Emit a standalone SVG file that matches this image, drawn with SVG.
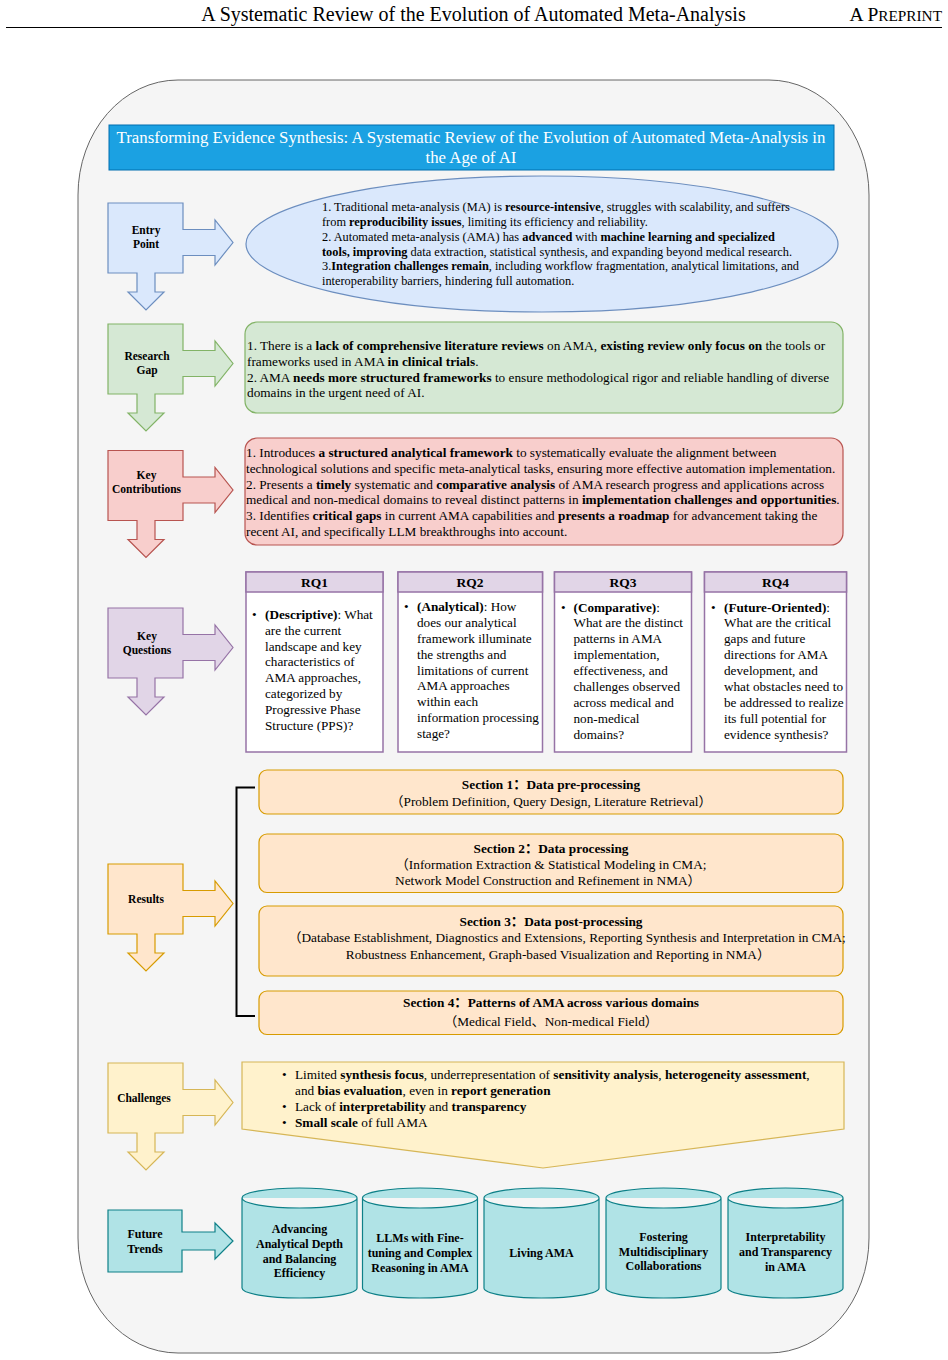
<svg xmlns="http://www.w3.org/2000/svg" xmlns:xlink="http://www.w3.org/1999/xlink" width="948" height="1360" viewBox="0 0 948 1360">
<style>
.t{font-family:"Liberation Serif","Noto Sans CJK SC",serif;fill:#000}
.b{font-weight:bold}
.lbl{font-family:"Liberation Serif",serif;font-weight:bold;font-size:11.5px;text-anchor:middle}
.cyl{font-family:"Liberation Serif",serif;font-weight:bold;font-size:12px;text-anchor:middle}
.body11{font-size:12.35px}
.body12{font-size:13.25px}
.rq{font-size:13.2px}
.rqh{font-family:"Liberation Serif",serif;font-weight:bold;font-size:13.5px;text-anchor:middle}
.sec{font-size:13.3px;text-anchor:middle}
.rqbox{fill:#fff;stroke:#9673a6;stroke-width:1.5}
.rqhead{fill:#e1d5e7;stroke:#9673a6;stroke-width:1.5}
.secbox{fill:#ffe6cc;stroke:#d79b00;stroke-width:1.2}
.cylshape{fill:#b0e3e6;stroke:#0e8088;stroke-width:1.2}
</style>
<defs>
<path id="la" d="M108,0 H183 V26.5 H215 V17 L233,39.5 L215,62 V52.5 H183 V70 H155 V89 H164 L146,107 L128,89 H137 V70 H108 Z"/>
<path id="cy" d="M0,10 a57.5,10 0 0 1 115,0 V100 a57.5,10 0 0 1 -115,0 Z M0,10 a57.5,10 0 0 0 115,0"/>
</defs>

<g id="page-header">
<text class="t" x="473.5" y="21" font-size="20" text-anchor="middle">A Systematic Review of the Evolution of Automated Meta-Analysis</text>
<text class="t" x="942" y="21" text-anchor="end"><tspan font-size="19.5">A P</tspan><tspan font-size="15.3">REPRINT</tspan></text>
<line x1="6" y1="27.5" x2="942" y2="27.5" stroke="#000" stroke-width="1"/>
</g>

<g id="container">
<rect x="78" y="80" width="791" height="1273" rx="100" ry="115" fill="#f5f5f5" stroke="#666" stroke-width="1"/>
</g>

<g id="title">
<rect x="109" y="125" width="725" height="45" fill="#1ba1e2" stroke="#006eaf" stroke-width="1"/>
<text class="t" font-size="16.8" text-anchor="middle" style="fill:#fff"><tspan x="471" y="143">Transforming Evidence Synthesis: A Systematic Review of the Evolution of Automated Meta-Analysis in</tspan><tspan x="471" y="163">the Age of AI</tspan></text>
</g>

<g id="entry-point">
<use xlink:href="#la" transform="translate(0,203)" fill="#dae8fc" stroke="#6c8ebf" stroke-width="1.2"/>
<text class="lbl"><tspan x="146" y="234">Entry</tspan><tspan x="146" y="248">Point</tspan></text>
</g>
<g id="entry-content">
<ellipse cx="542" cy="244" rx="296" ry="68" fill="#dae8fc" stroke="#6c8ebf" stroke-width="1.2"/>
<text class="t body11">
<tspan x="322" y="211">1. Traditional meta-analysis (MA) is <tspan class="b">resource-intensive</tspan>, struggles with scalability, and suffers</tspan>
<tspan x="322" y="226">from <tspan class="b">reproducibility issues</tspan>, limiting its efficiency and reliability.</tspan>
<tspan x="322" y="241">2. Automated meta-analysis (AMA) has <tspan class="b">advanced</tspan> with <tspan class="b">machine learning and specialized</tspan></tspan>
<tspan x="322" y="256"><tspan class="b">tools, improving</tspan> data extraction, statistical synthesis, and expanding beyond medical research.</tspan>
<tspan x="322" y="270">3.<tspan class="b">Integration challenges remain</tspan>, including workflow fragmentation, analytical limitations, and</tspan>
<tspan x="322" y="285">interoperability barriers, hindering full automation.</tspan>
</text>
</g>

<g id="research-gap">
<use xlink:href="#la" transform="translate(0,324)" fill="#d5e8d4" stroke="#82b366" stroke-width="1.2"/>
<text class="lbl"><tspan x="147" y="360">Research</tspan><tspan x="147" y="374">Gap</tspan></text>
</g>
<g id="research-gap-content">
<rect x="245" y="322" width="598" height="91" rx="12" fill="#d5e8d4" stroke="#82b366" stroke-width="1.2"/>
<text class="t body12">
<tspan x="247" y="350">1. There is a <tspan class="b">lack of comprehensive literature reviews</tspan> on AMA, <tspan class="b">existing review only focus on</tspan> the tools or</tspan>
<tspan x="247" y="366">frameworks used in AMA <tspan class="b">in clinical trials</tspan>.</tspan>
<tspan x="247" y="381.5">2. AMA <tspan class="b">needs more structured frameworks</tspan> to ensure methodological rigor and reliable handling of diverse</tspan>
<tspan x="247" y="397">domains in the urgent need of AI.</tspan>
</text>
</g>

<g id="key-contributions">
<use xlink:href="#la" transform="translate(0,450.5)" fill="#f8cecc" stroke="#b85450" stroke-width="1.2"/>
<text class="lbl"><tspan x="146.5" y="479">Key</tspan><tspan x="146.5" y="493">Contributions</tspan></text>
</g>
<g id="key-contributions-content">
<rect x="245" y="438" width="598" height="107" rx="12" fill="#f8cecc" stroke="#b85450" stroke-width="1.2"/>
<text class="t body12">
<tspan x="246" y="457">1. Introduces <tspan class="b">a structured analytical framework</tspan> to systematically evaluate the alignment between</tspan>
<tspan x="246" y="472.5">technological solutions and specific meta-analytical tasks, ensuring more effective automation implementation.</tspan>
<tspan x="246" y="488.5">2. Presents a <tspan class="b">timely</tspan> systematic and <tspan class="b">comparative analysis</tspan> of AMA research progress and applications across</tspan>
<tspan x="246" y="504">medical and non-medical domains to reveal distinct patterns in <tspan class="b">implementation challenges and opportunities</tspan>.</tspan>
<tspan x="246" y="520">3. Identifies <tspan class="b">critical gaps</tspan> in current AMA capabilities and <tspan class="b">presents a roadmap</tspan> for advancement taking the</tspan>
<tspan x="246" y="536">recent AI, and specifically LLM breakthroughs into account.</tspan>
</text>
</g>

<g id="key-questions">
<use xlink:href="#la" transform="translate(0,608)" fill="#e1d5e7" stroke="#9673a6" stroke-width="1.2"/>
<text class="lbl"><tspan x="147" y="640">Key</tspan><tspan x="147" y="654">Questions</tspan></text>
</g>

<g id="rq1">
<rect class="rqbox" x="246" y="572" width="137" height="180"/>
<rect class="rqhead" x="246" y="572" width="137" height="20"/>
<text class="rqh" x="314.5" y="587">RQ1</text>
<text class="t rq"><tspan x="252" y="619">•</tspan>
<tspan x="265" y="619"><tspan class="b">(Descriptive)</tspan>: What</tspan>
<tspan x="265" y="635">are the current</tspan>
<tspan x="265" y="650.5">landscape and key</tspan>
<tspan x="265" y="666">characteristics of</tspan>
<tspan x="265" y="682">AMA approaches,</tspan>
<tspan x="265" y="698">categorized by</tspan>
<tspan x="265" y="714">Progressive Phase</tspan>
<tspan x="265" y="730">Structure (PPS)?</tspan>
</text>
</g>

<g id="rq2">
<rect class="rqbox" x="398" y="572" width="144.5" height="180"/>
<rect class="rqhead" x="398" y="572" width="144.5" height="20"/>
<text class="rqh" x="470" y="587">RQ2</text>
<text class="t rq"><tspan x="404" y="611">•</tspan>
<tspan x="417" y="611"><tspan class="b">(Analytical)</tspan>: How</tspan>
<tspan x="417" y="627">does our analytical</tspan>
<tspan x="417" y="643">framework illuminate</tspan>
<tspan x="417" y="659">the strengths and</tspan>
<tspan x="417" y="674.5">limitations of current</tspan>
<tspan x="417" y="690">AMA approaches</tspan>
<tspan x="417" y="706">within each</tspan>
<tspan x="417" y="722">information processing</tspan>
<tspan x="417" y="738">stage?</tspan>
</text>
</g>

<g id="rq3">
<rect class="rqbox" x="554.5" y="572" width="137" height="180"/>
<rect class="rqhead" x="554.5" y="572" width="137" height="20"/>
<text class="rqh" x="623" y="587">RQ3</text>
<text class="t rq"><tspan x="561" y="612">•</tspan>
<tspan x="573.5" y="612"><tspan class="b">(Comparative)</tspan>:</tspan>
<tspan x="573.5" y="627">What are the distinct</tspan>
<tspan x="573.5" y="643">patterns in AMA</tspan>
<tspan x="573.5" y="659">implementation,</tspan>
<tspan x="573.5" y="674.5">effectiveness, and</tspan>
<tspan x="573.5" y="690.5">challenges observed</tspan>
<tspan x="573.5" y="706.5">across medical and</tspan>
<tspan x="573.5" y="722.5">non-medical</tspan>
<tspan x="573.5" y="738.5">domains?</tspan>
</text>
</g>

<g id="rq4">
<rect class="rqbox" x="704.5" y="572" width="142" height="180"/>
<rect class="rqhead" x="704.5" y="572" width="142" height="20"/>
<text class="rqh" x="775.5" y="587">RQ4</text>
<text class="t rq"><tspan x="711" y="612">•</tspan>
<tspan x="724" y="612"><tspan class="b">(Future-Oriented)</tspan>:</tspan>
<tspan x="724" y="627">What are the critical</tspan>
<tspan x="724" y="643">gaps and future</tspan>
<tspan x="724" y="659">directions for AMA</tspan>
<tspan x="724" y="674.5">development, and</tspan>
<tspan x="724" y="690.5">what obstacles need to</tspan>
<tspan x="724" y="706.5">be addressed to realize</tspan>
<tspan x="724" y="722.5">its full potential for</tspan>
<tspan x="724" y="738.5">evidence synthesis?</tspan>
</text>
</g>

<g id="results">
<use xlink:href="#la" transform="translate(0,864)" fill="#ffe6cc" stroke="#d79b00" stroke-width="1.2"/>
<text class="lbl" x="146" y="903">Results</text>
</g>

<g id="section-1">
<rect class="secbox" x="259" y="770" width="584" height="44" rx="8"/>
<text class="t sec"><tspan class="b" x="551" y="789">Section 1：Data pre-processing</tspan><tspan x="551" y="805.5">（Problem Definition, Query Design, Literature Retrieval）</tspan></text>
</g>
<g id="section-2">
<rect class="secbox" x="259" y="834" width="584" height="58.5" rx="8"/>
<text class="t sec"><tspan class="b" x="551" y="853">Section 2：Data processing</tspan><tspan x="551" y="869">（Information Extraction &amp; Statistical Modeling in CMA;</tspan><tspan x="548" y="884.5">Network Model Construction and Refinement in NMA）</tspan></text>
</g>
<g id="section-3">
<rect class="secbox" x="259" y="906" width="584" height="70" rx="8"/>
<text class="t sec"><tspan class="b" x="551" y="926">Section 3：Data post-processing</tspan><tspan x="567" y="942">（Database Establishment, Diagnostics and Extensions, Reporting Synthesis and Interpretation in CMA;</tspan><tspan x="558" y="958.5">Robustness Enhancement, Graph-based Visualization and Reporting in NMA）</tspan></text>
</g>
<g id="section-4">
<rect class="secbox" x="259" y="991" width="584" height="43.5" rx="8"/>
<text class="t sec"><tspan class="b" x="551" y="1007">Section 4：Patterns of AMA across various domains</tspan><tspan x="551" y="1025.5">（Medical Field、Non-medical Field）</tspan></text>
</g>

<g id="challenges">
<use xlink:href="#la" transform="translate(0,1063)" fill="#fff2cc" stroke="#d6b656" stroke-width="1.2"/>
<text class="lbl" x="144" y="1102">Challenges</text>
</g>
<g id="challenges-content">
<path d="M242,1062 H844 V1129 L543,1168 L242,1129 Z" fill="#fff2cc" stroke="#d6b656" stroke-width="1.2"/>
<text class="t body12">
<tspan x="282" y="1079">•</tspan><tspan x="295" y="1079">Limited <tspan class="b">synthesis focus</tspan>, underrepresentation of <tspan class="b">sensitivity analysis</tspan>, <tspan class="b">heterogeneity assessment</tspan>,</tspan>
<tspan x="295" y="1095">and <tspan class="b">bias evaluation</tspan>, even in <tspan class="b">report generation</tspan></tspan>
<tspan x="282" y="1110.5">•</tspan><tspan x="295" y="1110.5">Lack of <tspan class="b">interpretability</tspan> and <tspan class="b">transparency</tspan></tspan>
<tspan x="282" y="1126.5">•</tspan><tspan x="295" y="1126.5"><tspan class="b">Small scale</tspan> of full AMA</tspan>
</text>
</g>

<g id="future-trends">
<path d="M108,1210 H182 V1232 H215 V1223 L233,1241 L215,1259 V1250 H182 V1272 H108 Z" fill="#b0e3e6" stroke="#0e8088" stroke-width="1.2"/>
<text class="cyl"><tspan x="145" y="1238">Future</tspan><tspan x="145" y="1253">Trends</tspan></text>
</g>

<g id="trend-1">
<use xlink:href="#cy" class="cylshape" transform="translate(242,1188)"/>
<text class="cyl"><tspan x="299.5" y="1233">Advancing</tspan><tspan x="299.5" y="1248">Analytical Depth</tspan><tspan x="299.5" y="1263">and Balancing</tspan><tspan x="299.5" y="1277">Efficiency</tspan></text>
</g>
<g id="trend-2">
<use xlink:href="#cy" class="cylshape" transform="translate(362.5,1188)"/>
<text class="cyl"><tspan x="420" y="1241.5">LLMs with Fine-</tspan><tspan x="420" y="1256.5">tuning and Complex</tspan><tspan x="420" y="1271.5">Reasoning in AMA</tspan></text>
</g>
<g id="trend-3">
<use xlink:href="#cy" class="cylshape" transform="translate(484,1188)"/>
<text class="cyl" x="541.5" y="1257">Living AMA</text>
</g>
<g id="trend-4">
<use xlink:href="#cy" class="cylshape" transform="translate(606,1188)"/>
<text class="cyl"><tspan x="663.5" y="1241">Fostering</tspan><tspan x="663.5" y="1255.5">Multidisciplinary</tspan><tspan x="663.5" y="1270">Collaborations</tspan></text>
</g>
<g id="trend-5">
<use xlink:href="#cy" class="cylshape" transform="translate(728,1188)"/>
<text class="cyl"><tspan x="785.5" y="1241">Interpretability</tspan><tspan x="785.5" y="1256">and Transparency</tspan><tspan x="785.5" y="1271">in AMA</tspan></text>
</g>

<g id="connectors">
<path d="M255,787.5 H236.5 V1016 H255" fill="none" stroke="#000" stroke-width="2"/>
</g>
</svg>
